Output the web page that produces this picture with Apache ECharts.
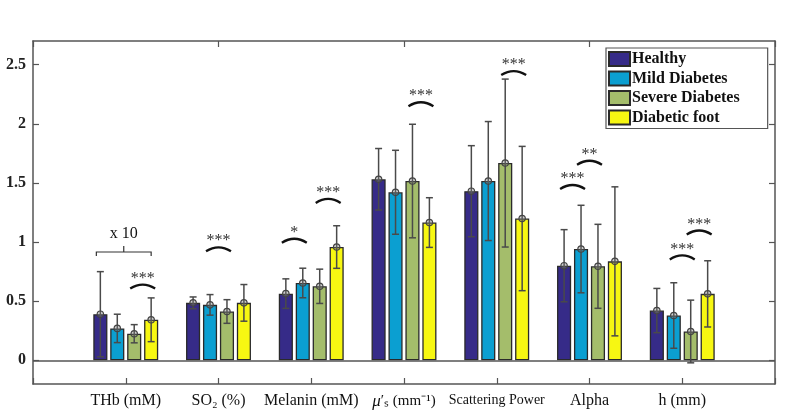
<!DOCTYPE html>
<html><head><meta charset="utf-8">
<script src="https://cdn.jsdelivr.net/npm/echarts@6/dist/echarts.min.js"></script>
<style>html,body{margin:0;padding:0;background:#fff}#c{width:795px;height:417px}</style>
</head><body><div id="c"></div>
<script>
// ---- data ----
const categories = ['', 'THb (mM)', 'SO₂ (%)', 'Melanin (mM)', "μ′ₛ (mm⁻¹)", 'Scattering Power', 'Alpha', 'h (mm)', ''];
const seriesNames = ['Healthy', 'Mild Diabetes', 'Severe Diabetes', 'Diabetic foot'];
const healthy = [0.39, 0.486, 0.564, 1.531, 1.43, 0.80, 0.421];
const mild    = [0.27, 0.469, 0.654, 1.421, 1.516, 0.941, 0.379];
const severe  = [0.225, 0.413, 0.626, 1.516, 1.668, 0.795, 0.244];
const foot    = [0.343, 0.486, 0.958, 1.165, 1.199, 0.837, 0.562];
const healthyErr = [0.36, 0.05, 0.125, 0.26, 0.385, 0.305, 0.187];
const mildErr    = [0.12, 0.087, 0.125, 0.355, 0.503, 0.37, 0.277];
const severeErr  = [0.077, 0.10, 0.145, 0.48, 0.71, 0.355, 0.265];
const footErr    = [0.185, 0.155, 0.18, 0.21, 0.61, 0.63, 0.28];
const yTicks = [0, 0.5, 1, 1.5, 2, 2.5];
// significance annotations: category index, first bar, second bar, level, label
const sigCat   = [1, 2, 3, 3, 4, 5, 6, 6, 7, 7];
const sigFrom  = [2, 1, 0, 2, 2, 2, 0, 1, 1, 2];
const sigTo    = [3, 2, 1, 3, 3, 3, 1, 2, 2, 3];
const sigY     = [0.607, 0.922, 0.994, 1.331, 2.148, 2.412, 1.449, 1.654, 0.853, 1.064];
const sigLabel = ['***', '***', '*', '***', '***', '***', '***', '**', '***', '***'];
// scale bracket
const scaleCat = [1];
const scaleY = [0.916];
const scaleLabel = ['x 10'];

const values = [healthy, mild, severe, foot];
const errs = [healthyErr, mildErr, severeErr, footErr];
const colors = ['#362b88', '#0b9fd1', '#a4bd6b', '#f7f712'];
const SERIF = '"Liberation Serif", "Times New Roman", serif';

function barOffset(api, k) {
  const band = api.size([1, 0])[0];
  const bw = band * 0.7 / 4.6;
  return -band * 0.35 + bw / 2 + k * bw * 1.2;
}

function errRender(k) {
  return function (params, api) {
    const cat = api.value(0), v = api.value(1), e = api.value(2);
    const off = barOffset(api, k);
    const c = api.coord([cat, v]);
    const t = api.coord([cat, v + e]);
    const b = api.coord([cat, v - e]);
    const x = c[0] + off, cap = 3.5;
    const st = { stroke: '#4a4a4a', lineWidth: 1.5 };
    return { type: 'group', children: [
      { type: 'line', shape: { x1: x, y1: t[1], x2: x, y2: b[1] }, style: st },
      { type: 'line', shape: { x1: x - cap, y1: t[1], x2: x + cap, y2: t[1] }, style: st },
      { type: 'line', shape: { x1: x - cap, y1: b[1], x2: x + cap, y2: b[1] }, style: st },
      { type: 'circle', shape: { cx: x, cy: c[1], r: 3.2 }, style: { fill: 'rgba(120,120,120,0.35)', stroke: '#444', lineWidth: 1.2 } }
    ]};
  };
}

function sigRender(params, api) {
  const cat = api.value(0), y = api.value(1), k1 = api.value(2), k2 = api.value(3);
  const p = api.coord([cat, y]);
  const xa = p[0] + barOffset(api, k1) - 4;
  const xb = p[0] + barOffset(api, k2) + 4;
  const xm = (xa + xb) / 2;
  return { type: 'group', children: [
    { type: 'bezierCurve', shape: { x1: xa, y1: p[1], x2: xb, y2: p[1], cpx1: xm, cpy1: p[1] - 8 },
      style: { stroke: '#111', lineWidth: 2.3, fill: null } },
    { type: 'text', style: { text: sigLabel[params.dataIndex], x: xm, y: p[1] - 10, align: 'center', verticalAlign: 'middle',
      fontSize: 16, fontFamily: SERIF, fill: '#333' } }
  ]};
}

function scaleRender(params, api) {
  const cat = api.value(0), y = api.value(1);
  const p = api.coord([cat, y]);
  const xa = p[0] + barOffset(api, 0) - 4;
  const xb = p[0] + barOffset(api, 3) + 0;
  const xm = (xa + xb) / 2;
  const st = { stroke: '#333', lineWidth: 1.2, fill: null };
  return { type: 'group', children: [
    { type: 'polyline', shape: { points: [[xa, p[1] + 4], [xa, p[1]], [xb, p[1]], [xb, p[1] + 4]] }, style: st },
    { type: 'line', shape: { x1: xm, y1: p[1], x2: xm, y2: p[1] - 6 }, style: st },
    { type: 'text', style: { text: scaleLabel[params.dataIndex], x: xm, y: p[1] - 18, align: 'center', verticalAlign: 'middle',
      fontSize: 16, fontFamily: SERIF, fill: '#111' } }
  ]};
}

const series = [];
values.forEach((vals, k) => {
  const s = {
    name: seriesNames[k], type: 'bar', xAxisIndex: 0, yAxisIndex: 0,
    data: ['-'].concat(vals, ['-']),
    barCategoryGap: '30%', barGap: '20%',
    itemStyle: { color: colors[k], borderColor: '#2a2a2a', borderWidth: 1.3 },
    emphasis: { disabled: true }, z: 2
  };
  if (k === 0) {
    s.markLine = { silent: true, symbol: 'none', label: { show: false }, animation: false,
      lineStyle: { color: '#555', width: 1.5, type: 'solid' }, data: [{ yAxis: 0 }] };
  }
  series.push(s);
});
values.forEach((vals, k) => {
  series.push({
    type: 'custom', xAxisIndex: 0, yAxisIndex: 0, z: 5, clip: false,
    renderItem: errRender(k), encode: { x: 0, y: 1 },
    data: vals.map((v, i) => [i + 1, v, errs[k][i]])
  });
});
series.push({
  type: 'custom', xAxisIndex: 0, yAxisIndex: 0, z: 6, clip: false,
  renderItem: sigRender, encode: { x: 0, y: 1 },
  data: sigCat.map((c, i) => [c, sigY[i], sigFrom[i], sigTo[i]])
});
series.push({
  type: 'custom', xAxisIndex: 0, yAxisIndex: 0, z: 6, clip: false,
  renderItem: scaleRender, encode: { x: 0, y: 1 },
  data: scaleCat.map((c, i) => [c, scaleY[i]])
});

const axisLine = { show: true, onZero: false, lineStyle: { color: '#555', width: 1.5 } };
const axisTick = { show: true, inside: true, length: 6, lineStyle: { color: '#555', width: 1.2 } };

const option = {
  animation: false,
  backgroundColor: '#fff',
  grid: { left: 33, right: 20, top: 41, bottom: 33, containLabel: false },
  legend: {
    data: seriesNames, orient: 'vertical', left: 606, top: 48,
    itemWidth: 21, itemHeight: 14, itemGap: 3.5, padding: [3, 28, 3, 2],
    borderColor: '#555', borderWidth: 1.2, backgroundColor: '#fff', selectedMode: false,
    icon: 'rect',
    textStyle: { fontFamily: SERIF, fontWeight: 'bold', fontSize: 16, color: '#111', padding: [0, 0, 0, -3] }
  },
  xAxis: [
    { type: 'category', data: categories, boundaryGap: false, position: 'bottom',
      axisLine: axisLine, axisTick: axisTick, splitLine: { show: false },
      axisLabel: { interval: 0, margin: 9, fontFamily: SERIF, fontSize: 16, color: '#111',
        formatter: function (v) {
          if (v === 'Scattering Power') return '{s|' + v + '}';
          if (v.charAt(0) === 'μ') return '{mu|μ}{t|' + v.slice(1) + '}';
          return v;
        },
        rich: { s: { fontFamily: SERIF, fontSize: 14, color: '#111' },
                mu: { fontFamily: SERIF, fontSize: 17, fontStyle: 'italic', color: '#111' },
                t: { fontFamily: SERIF, fontSize: 15, color: '#111' } } } },
    { type: 'category', data: categories, boundaryGap: false, position: 'top',
      axisLine: axisLine, axisTick: axisTick, axisLabel: { show: false }, splitLine: { show: false } }
  ],
  yAxis: [
    { type: 'value', min: -0.2, max: 2.7, position: 'left',
      axisLine: axisLine, axisTick: Object.assign({ customValues: yTicks }, axisTick), splitLine: { show: false },
      axisLabel: { customValues: yTicks, margin: 7, fontFamily: SERIF, fontWeight: 'bold', fontSize: 16, color: '#222' } },
    { type: 'value', min: -0.2, max: 2.7, position: 'right',
      axisLine: axisLine, axisTick: Object.assign({ customValues: yTicks }, axisTick), splitLine: { show: false },
      axisLabel: { show: false } }
  ],
  series: series
};
const chart = echarts.init(document.getElementById('c'), null, { renderer: 'canvas' });
chart.setOption(option);
</script></body></html>
